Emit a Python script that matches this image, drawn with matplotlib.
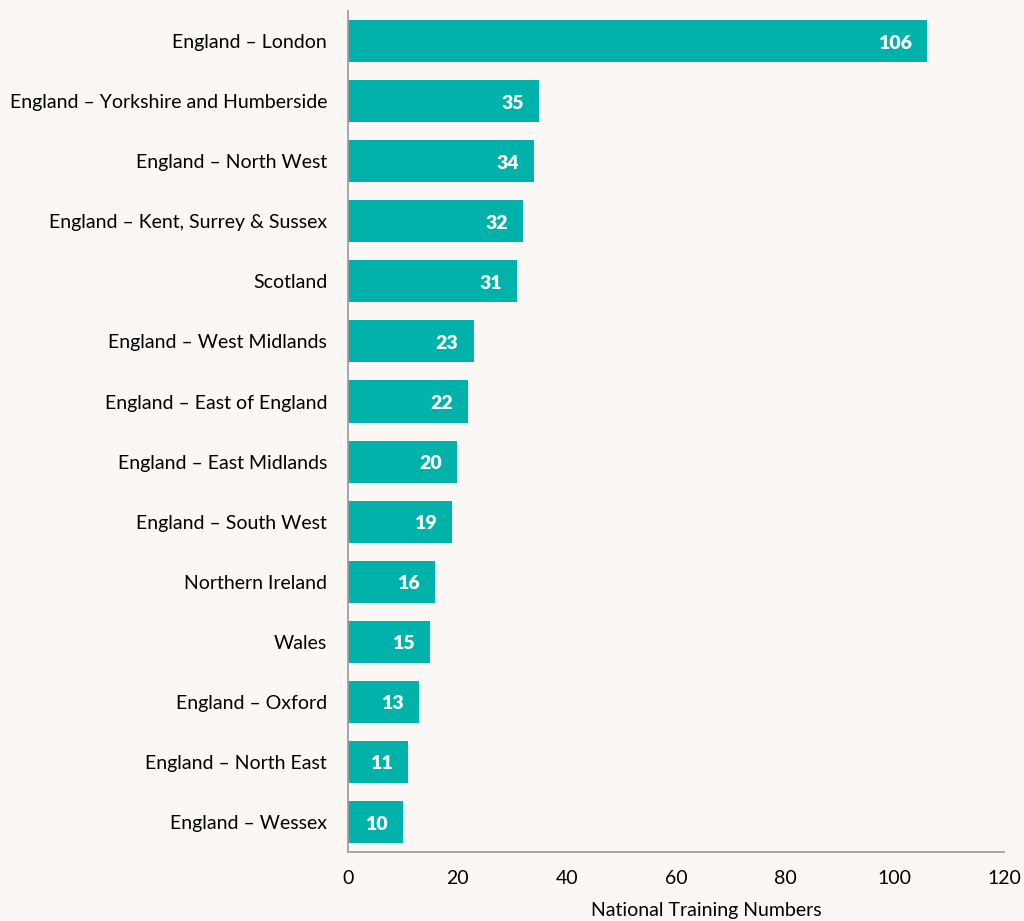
import matplotlib.pyplot as plt

# Données
regions = [
    "England – London",
    "England – Yorkshire and Humberside",
    "England – North West",
    "England – Kent, Surrey & Sussex",
    "Scotland",
    "England – West Midlands",
    "England – East of England",
    "England – East Midlands",
    "England – South West",
    "Northern Ireland",
    "Wales",
    "England – Oxford",
    "England – North East",
    "England – Wessex",
]
valeurs = [106, 35, 34, 32, 31, 23, 22, 20, 19, 16, 15, 13, 11, 10]

fond = "#FAF7F4"
teal = "#00B2A9"
gris = "#A0A0A0"

plt.rcParams['font.family'] = ['Lato', 'DejaVu Sans']

fig = plt.figure(figsize=(10.24, 9.21), dpi=100, facecolor=fond)
ax = fig.add_axes([0.3398, 0.0749, 0.6407, 0.9131], facecolor=fond)

positions = list(range(len(regions)))
ax.barh(positions, valeurs, height=0.7, color=teal)

# étiquettes de valeur à l'intérieur des barres
for p, v in zip(positions, valeurs):
    ax.annotate(str(v), xy=(v, p), xytext=(-11, -1.5), textcoords="offset points",
                ha="right", va="center", color="white", fontsize=14, fontweight="heavy")

ax.set_yticks(positions)
ax.set_yticklabels(regions, fontsize=14)
ax.set_ylim(len(regions) - 0.5, -0.5)
ax.set_xlim(0, 120)
ax.set_xticks([0, 20, 40, 60, 80, 100, 120])
ax.tick_params(axis="both", length=0, labelsize=14)
ax.tick_params(axis="x", pad=13)
ax.tick_params(axis="y", pad=15)

for cote in ["top", "right"]:
    ax.spines[cote].set_visible(False)
for cote in ["left", "bottom"]:
    ax.spines[cote].set_color(gris)
    ax.spines[cote].set_linewidth(1.3)

ax.set_xlabel("National Training Numbers", fontsize=14)
ax.xaxis.set_label_coords(0.546, -0.060)

fig.savefig("out.png", dpi=100, facecolor=fond)
